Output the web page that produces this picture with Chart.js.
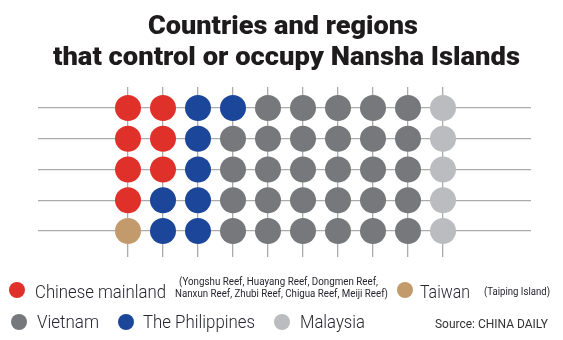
<!DOCTYPE html>
<html>
<head>
<meta charset="utf-8">
<script src="https://cdn.jsdelivr.net/npm/chart.js@4/dist/chart.umd.min.js"></script>
<style>
  body { margin: 0; background: #fff; }
  #wrap { position: relative; width: 563px; height: 340px; overflow: hidden; font-family: Roboto, "Noto Sans", sans-serif; color: #231f20; }
  #dots { position: absolute; left: 0; top: 0; }
  .t { position: absolute; white-space: nowrap; line-height: 1; transform-origin: 0 0; }
  .title { font-weight: 900; font-size: 26px; color: #1e1b1c; }
  .lg { font-weight: 300; font-size: 19px; color: #262630; }
  .note { font-weight: 400; font-size: 10px; color: #262630; }
  .src { font-weight: 400; font-size: 13px; color: #333; }
  .dot { position: absolute; width: 16px; height: 16px; border-radius: 50%; }
</style>
</head>
<body>
<div id="wrap">
  <canvas id="dots" width="563" height="340"></canvas>

  <div class="t title" data-x="148" data-w="270" style="top:12px">Countries and regions</div>
  <div class="t title" data-x="53" data-w="467" style="top:43px">that control or occupy Nansha Islands</div>

  <div class="dot" data-region="0" style="left:9px;top:282px"></div>
  <div class="t lg" data-x="35" data-w="131" style="top:282px">Chinese mainland</div>
  <div class="t note" data-x="179" data-w="199" style="top:277px">(Yongshu Reef, Huayang Reef, Dongmen Reef,</div>
  <div class="t note" data-x="175" data-w="213" style="top:289px">Nanxun Reef, Zhubi Reef, Chigua Reef, Meiji Reef)</div>
  <div class="dot" data-region="1" style="left:397px;top:282px"></div>
  <div class="t lg" data-x="420" data-w="50" style="top:282px">Taiwan</div>
  <div class="t note" data-x="484" data-w="66" style="top:287px">(Taiping Island)</div>

  <div class="dot" data-region="2" style="left:11px;top:314px"></div>
  <div class="t lg" data-x="37" data-w="62" style="top:312px">Vietnam</div>
  <div class="dot" data-region="3" style="left:118px;top:314px"></div>
  <div class="t lg" data-x="143" data-w="112" style="top:312px">The Philippines</div>
  <div class="dot" data-region="4" style="left:274px;top:314px"></div>
  <div class="t lg" data-x="300" data-w="65" style="top:312px">Malaysia</div>
  <div class="t src" data-x="435" data-w="113" style="top:317px">Source: CHINA DAILY</div>
</div>

<script>
const regions = ['Chinese mainland', 'Taiwan', 'Vietnam', 'The Philippines', 'Malaysia'];
const regionColors = ['#e0302a', '#c39a6b', '#77787b', '#1b4699', '#bbbcbf'];

// one entry per column, top row first; each value is an index into regions
const columns = [
  [0, 0, 0, 0, 1],
  [0, 0, 0, 3, 3],
  [3, 3, 3, 3, 3],
  [3, 2, 2, 2, 2],
  [2, 2, 2, 2, 2],
  [2, 2, 2, 2, 2],
  [2, 2, 2, 2, 2],
  [2, 2, 2, 2, 2],
  [2, 2, 2, 2, 2],
  [4, 4, 4, 4, 4]
];
const rowCount = 5;

// flatten the grid into scatter points
const points = [];
const pointColors = [];
columns.forEach((col, ci) => {
  col.forEach((r, ri) => {
    points.push({ x: ci + 1, y: ri + 1 });
    pointColors.push(regionColors[r]);
  });
});

const gridLine = { color: '#ababab', lineWidth: 1.3, drawTicks: false };

new Chart(document.getElementById('dots'), {
  type: 'scatter',
  data: {
    datasets: [{
      data: points,
      pointRadius: 13,
      pointHoverRadius: 13,
      pointBackgroundColor: pointColors,
      pointBorderWidth: 0,
      clip: false
    }]
  },
  options: {
    responsive: false,
    animation: false,
    events: [],
    layout: { padding: { left: 38, right: 32, top: 87, bottom: 83 } },
    plugins: { legend: { display: false }, tooltip: { enabled: false } },
    scales: {
      x: {
        type: 'linear',
        min: -1.571,
        max: 12.514,
        afterBuildTicks: axis => { axis.ticks = columns.map((c, i) => ({ value: i + 1 })); },
        ticks: { display: false },
        grid: gridLine,
        border: { display: false }
      },
      y: {
        type: 'linear',
        reverse: true,
        min: 0.317,
        max: 5.846,
        afterBuildTicks: axis => {
          axis.ticks = [];
          for (let i = 1; i <= rowCount; i++) axis.ticks.push({ value: i });
        },
        ticks: { display: false },
        grid: gridLine,
        border: { display: false }
      }
    }
  }
});

// legend swatches share the chart colours
document.querySelectorAll('.dot').forEach(d => {
  d.style.background = regionColors[+d.dataset.region];
});

// squeeze each label to its column width
function fitText() {
  document.querySelectorAll('.t').forEach(el => {
    el.style.left = el.dataset.x + 'px';
    const w = el.getBoundingClientRect().width;
    el.style.transform = 'scaleX(' + (el.dataset.w / w) + ')';
  });
}
if (document.fonts && document.fonts.ready) document.fonts.ready.then(fitText);
else fitText();
</script>
</body>
</html>
